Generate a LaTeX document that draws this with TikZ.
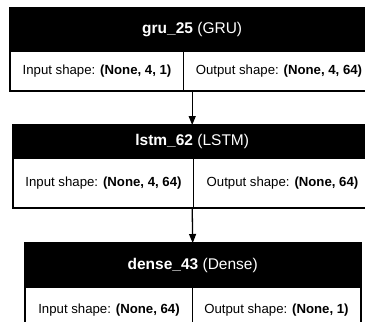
\documentclass[tikz,border=0pt]{standalone}
\usepackage{fontspec}
\setmainfont{Liberation Sans}
\usetikzlibrary{arrows.meta,positioning,calc}
\tikzset{
  >=Stealth,
  head/.style={draw=black,fill=black,text=white,anchor=north west,inner sep=0pt,
               font=\fontsize{15.5}{18}\selectfont},
  cell/.style={draw=black,line width=1pt,fill=white,anchor=north west,inner sep=0pt,
               font=\fontsize{13.2}{16}\selectfont},
  frame/.style={draw=black,line width=2.6pt},
  link/.style={-{Triangle[length=9pt,width=7pt]},line width=1.3pt},
}

\begin{document}
\begin{tikzpicture}[x=1pt,y=-1pt]
  \useasboundingbox (0,0) rectangle (365,322);
  \clip (0,0) rectangle (365,322);

  % gru layer
  \node[head,minimum width=364pt,minimum height=43pt] (gruhead) at (10,8)
    {\textbf{gru\_25} (GRU)};
  \node[cell,minimum width=173pt,minimum height=39pt] (gruin) at (10,51)
    {Input shape: \textbf{(None, 4, 1)}};
  \node[cell,minimum width=191pt,minimum height=39pt] (gruout) at (183,51)
    {Output shape: \textbf{(None, 4, 64)}};
  \draw[frame] (gruhead.north west) rectangle (gruout.south east);

  % lstm layer
  \node[head,minimum width=358pt,minimum height=33pt] (lstmhead) at (13,125)
    {\textbf{lstm\_62} (LSTM)};
  \node[cell,minimum width=180pt,minimum height=49pt] (lstmin) at (13,158)
    {Input shape: \textbf{(None, 4, 64)}};
  \node[cell,minimum width=178pt,minimum height=49pt] (lstmout) at (193,158)
    {Output shape: \textbf{(None, 64)}};
  \draw[frame] (lstmhead.north west) rectangle (lstmout.south east);

  % dense layer
  \node[head,minimum width=335pt,minimum height=44pt] (densehead) at (25,243)
    {\textbf{dense\_43} (Dense)};
  \node[cell,minimum width=167pt,minimum height=45pt] (densein) at (25,287)
    {Input shape: \textbf{(None, 64)}};
  \node[cell,minimum width=168pt,minimum height=45pt] (denseout) at (192,287)
    {Output shape: \textbf{(None, 1)}};
  \draw[frame] (densehead.north west) rectangle (denseout.south east);

  % layer to layer
  \draw[link] (gruhead.center |- gruin.south) -- (lstmhead.north);
  \draw[link] (lstmhead.center |- lstmin.south) -- (densehead.north);
\end{tikzpicture}
\end{document}
